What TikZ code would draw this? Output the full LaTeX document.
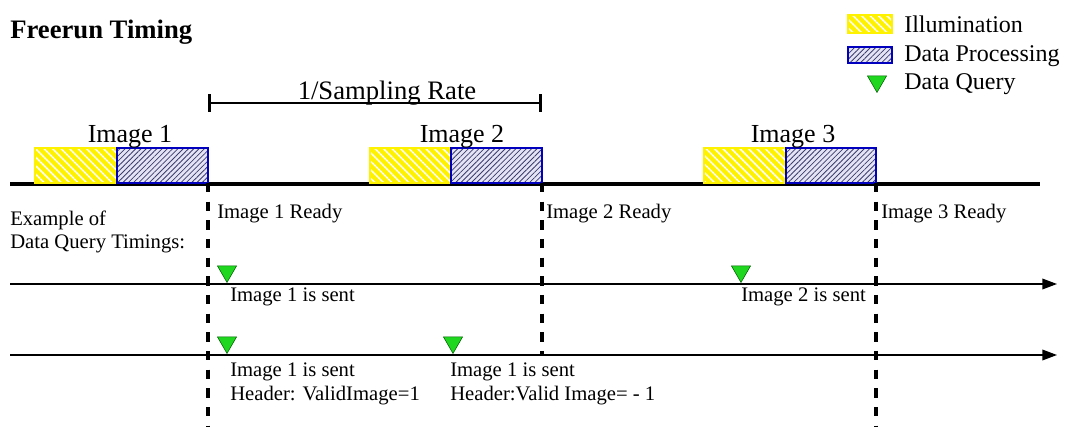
\documentclass[tikz,border=0pt]{standalone}
\usepackage{fontspec}
\setmainfont{Liberation Serif}
\usetikzlibrary{patterns.meta,arrows.meta,shapes.geometric,fit}
\definecolor{illumY}{RGB}{255,242,0}
\definecolor{procB}{RGB}{0,0,190}
\definecolor{hatchB}{RGB}{60,60,110}
\definecolor{procFill}{RGB}{228,228,245}
\definecolor{qgreen}{RGB}{30,215,30}
\begin{document}
\begin{tikzpicture}[x=0.75pt,y=-0.75pt,
  illum/.style={draw=illumY, line width=2pt, inner sep=0pt, outer sep=0pt,
    preaction={fill=illumY},
    pattern={Lines[angle=-45,distance=4.5pt,line width=1.1pt]}, pattern color=white},
  proc/.style={draw=procB, line width=2pt, inner sep=0pt, outer sep=0pt,
    preaction={fill=procFill},
    pattern={Lines[angle=45,distance=2.8pt,line width=0.6pt]}, pattern color=hatchB},
  query/.style={regular polygon, regular polygon sides=3, shape border rotate=180,
    fill=qgreen, draw=green!35!black, line width=0.4pt, minimum size=16.5pt, inner sep=0pt},
  body/.style={font=\fontsize{15.5}{18}\selectfont, inner sep=0pt},
  imglabel/.style={font=\fontsize{19.5}{22}\selectfont, inner sep=0pt},
  legtext/.style={font=\fontsize{18}{21}\selectfont, inner sep=0pt},
  titletext/.style={font=\fontsize{20}{23}\selectfont\bfseries, inner sep=0pt},
  timeline/.style={line width=2.3pt},
  readyline/.style={line width=2.4pt, dash pattern=on 7pt off 7pt},
  axisline/.style={line width=1pt, -{Triangle[length=11pt,width=8pt]}},
  ratebar/.style={line width=1.9pt, {Bar[width=13pt]}-{Bar[width=13pt]}}
]
\useasboundingbox (0,0) rectangle (1067,427);

% title
\node[titletext, anchor=base west] (title) at (10,39) {Freerun Timing};

% legend
\coordinate (ly1) at (848,15); \coordinate (ly2) at (892,33);
\node[illum, fit=(ly1)(ly2)] (legY) {};
\node[legtext, anchor=base west] (legYt) at (904,33) {Illumination};
\coordinate (lb1) at (848,47); \coordinate (lb2) at (892,63);
\node[proc, fit=(lb1)(lb2)] (legB) {};
\node[legtext, anchor=base west] (legBt) at (904,62) {Data Processing};
\node[query, anchor=corner 1] (legQ) at (877,93) {};
\node[legtext, anchor=base west] (legQt) at (904,90) {Data Query};

% main timeline
\coordinate (tlA) at (10,184);
\coordinate (tlB) at (1040,184);
\draw[timeline] (tlA) -- (tlB);

% image boxes
\foreach \n/\a/\b/\c/\lx/\ye in {1/35/117/208/130/427, 2/370/451/542/462/355, 3/704/786/876/793/427}{
  \coordinate (y\n a) at (\a,148); \coordinate (y\n b) at (\b,183);
  \coordinate (b\n a) at (\b,148); \coordinate (b\n b) at (\c,183);
  \node[illum, fit=(y\n a)(y\n b)] (img\n y) {};
  \node[proc, fit=(b\n a)(b\n b)] (img\n b) {};
  \node[imglabel, anchor=base] (img\n t) at (\lx,143) {Image \n};
  \coordinate (rd\n) at (\c,\ye);
  \draw[readyline] (img\n b.south east) -- (rd\n);
}

% sampling rate bar
\draw[ratebar] (img1b.south east |- 0,103) coordinate (srA) -- (img2b.south east |- 0,103) coordinate (srB);
\node[font=\fontsize{20}{23}\selectfont, inner sep=0pt, anchor=base] (srt) at (387,100) {1/Sampling Rate};

% ready labels
\node[body, anchor=base west] (r1) at (217,219) {Image 1 Ready};
\node[body, anchor=base west] (r2) at (546,219) {Image 2 Ready};
\node[body, anchor=base west] (r3) at (881,219) {Image 3 Ready};

\node[body, anchor=base west] (ex1) at (10,226) {Example of};
\node[body, anchor=base west] (ex2) at (10,249) {Data Query Timings:};

% query axis 1
\coordinate (a1s) at (10,284); \coordinate (a1e) at (1057,284);
\draw[axisline] (a1s) -- (a1e);
\node[query, anchor=corner 1] (q11) at (227,283) {};
\node[query, anchor=corner 1] (q12) at (741,283) {};
\node[body, anchor=base west] (s11) at (230,302) {Image 1 is sent};
\node[body, anchor=base west] (s12) at (741,302) {Image 2 is sent};

% query axis 2
\coordinate (a2s) at (10,355); \coordinate (a2e) at (1057,355);
\draw[axisline] (a2s) -- (a2e);
\node[query, anchor=corner 1] (q21) at (227,354) {};
\node[query, anchor=corner 1] (q22) at (453,354) {};
\node[body, anchor=base west] (s21) at (230,377) {Image 1 is sent};
\node[body, anchor=base west] (h21) at (230,401) {Header: ValidImage=1};
\node[body, anchor=base west] (s22) at (450,377) {Image 1 is sent};
\node[body, anchor=base west] (h22) at (450,401) {Header:Valid Image= - 1};
\end{tikzpicture}
\end{document}
